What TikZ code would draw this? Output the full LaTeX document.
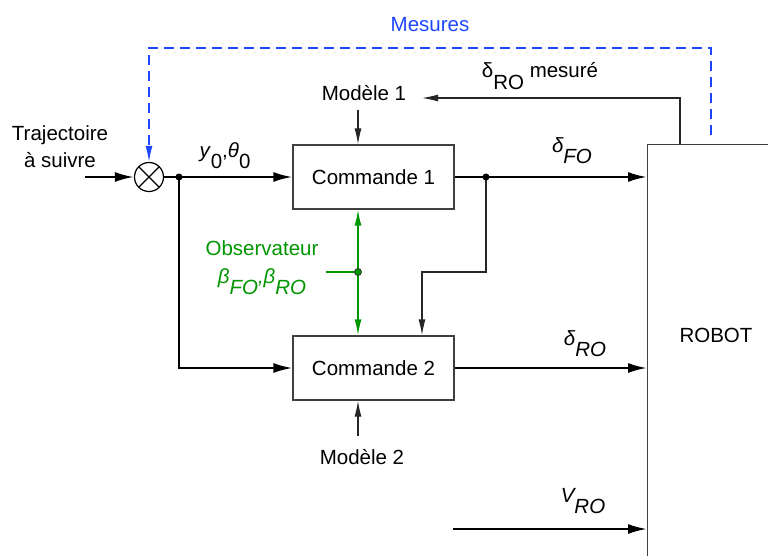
\documentclass[tikz,border=0pt]{standalone}
\usepackage{fontspec}
\setmainfont{Liberation Sans}
\usetikzlibrary{positioning,arrows.meta,calc}
\newcommand{\lowsub}[1]{\raisebox{-0.55em}{#1}}
\definecolor{mesblue}{RGB}{30,70,255}
\definecolor{obsgreen}{RGB}{0,150,0}

\begin{document}
\begin{tikzpicture}[x=1pt, y=-1pt,
  font=\fontsize{20.5pt}{27pt}\selectfont,
  blk/.style={draw=black!75, line width=1.2pt, minimum width=161pt, minimum height=64pt, inner sep=0pt},
  sumnode/.style={draw, circle, minimum size=29pt, inner sep=0pt, line width=1.2pt,
    path picture={\draw[line width=1.2pt] (path picture bounding box.north west) -- (path picture bounding box.south east)
      (path picture bounding box.north east) -- (path picture bounding box.south west);}},
  sig/.style={line width=2.2pt, -{Latex[length=19pt,width=10pt]}},
  lnk/.style={line width=1.2pt, draw=black!85, -{Latex[length=16pt,width=7pt]}},
  obs/.style={line width=1.5pt, draw=obsgreen},
  meas/.style={line width=1.3pt, draw=mesblue, dash pattern=on 10pt off 6pt, -{Latex[length=16pt,width=7pt]}},
  lab/.style={inner sep=0pt}]
\useasboundingbox (0,0) rectangle (768,556);
% ---- input and comparator ----
\node[align=center] (traj) at (60,147) {Trajectoire\\à suivre};
\node[sumnode] (sum) at (149,177) {};
\coordinate (in) at (85,177);
\draw[sig] (in) -- (sum);
% ---- control blocks ----
\node[blk] (c1) at (373.5,177) {Commande 1};
\node[blk] (c2) at (373.5,368) {Commande 2};
\coordinate (ax) at (358,0);
\node (m1) at (364,93) {Modèle 1};
\node (m2) at (362,457) {Modèle 2};
\draw[lnk] ([yshift=-6pt]ax |- m1.south) -- (ax |- c1.north);
\draw[lnk] ([yshift=10pt]ax |- m2.north) -- (ax |- c2.south);
% ---- robot ----
\node[draw=black!75, line width=1.2pt, minimum width=160pt, minimum height=440pt, anchor=north west] (robot) at (647,144) {};
\node (robtxt) at (716,335) {ROBOT};
% ---- references to the blocks ----
\coordinate (j1) at (179,177);
\draw[line width=2.2pt] (sum) -- (j1);
\draw[sig] (j1) -- (c1.west);
\draw[sig] (j1) |- (c2.west);
\fill (j1) circle (3.5pt);
\node[lab] (yt) at (225,156) {\textit{y}\lowsub{0},\textit{θ}\lowsub{0}};
% ---- block outputs ----
\coordinate (j2) at (486,177);
\draw[sig] (c1.east) -- (c1.east -| robot.west);
\draw[lnk] (j2) -- ++(0,95) -| ([xshift=48.5pt]c2.north);
\fill (j2) circle (3.5pt);
\node[lab] (dfo) at (572,151) {\itshape δ\lowsub{FO}};
\draw[sig] (c2.east) -- (c2.east -| robot.west);
\node[lab] (dro) at (585,344) {\itshape δ\lowsub{RO}};
\coordinate (vin) at (453,529);
\draw[sig] (vin) -- (vin -| robot.west);
\node[lab] (vro) at (583,501) {\itshape V\lowsub{RO}};
% ---- observer ----
\coordinate (ob) at (358,272);
\draw[obs, {Latex[length=16pt,width=7pt]}-{Latex[length=16pt,width=7pt]}] (ax |- c1.south) -- (ax |- c2.north);
\draw[obs, line width=1.2pt] (326,272) -- (ob);
\fill[obsgreen] (ob) circle (3.5pt);
\draw[black!80, line width=0.8pt] (ob) circle (3.5pt);
\node[text=obsgreen] (obstxt) at (262,248) {Observateur};
\node[lab, text=obsgreen] (beta) at (262,282) {\itshape β\lowsub{FO},β\lowsub{RO}};
% ---- measured steering ----
\coordinate (rm) at (422,98);
\draw[lnk] ([xshift=33pt]robot.north west) |- (rm);
\node[lab] (drm) at (540,76) {δ\lowsub{RO} mesuré};
% ---- measurements ----
\coordinate (mr) at (711,135);
\draw[meas] (mr) -- (mr |- 0,48) -| (sum.north);
\node[text=mesblue] (mes) at (430,25) {Mesures};
\end{tikzpicture}
\end{document}
